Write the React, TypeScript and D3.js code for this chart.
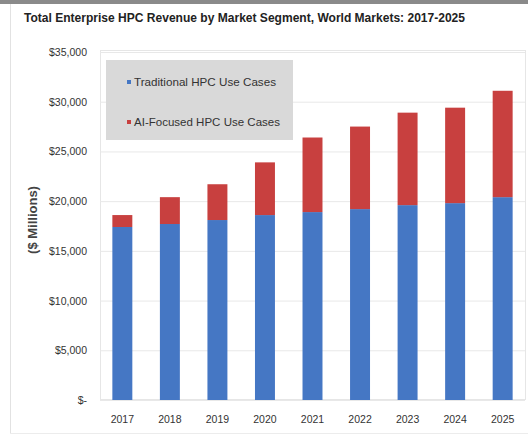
import React from "react";
import * as d3 from "d3";

const years = ["2017", "2018", "2019", "2020", "2021", "2022", "2023", "2024", "2025"];
const traditional = [17400, 17700, 18100, 18600, 18900, 19200, 19600, 19800, 20400];
const aiFocused = [1200, 2700, 3600, 5300, 7500, 8300, 9300, 9600, 10700];
const yTicks = [0, 5000, 10000, 15000, 20000, 25000, 30000, 35000];
const seriesNames = ["Traditional HPC Use Cases", "AI-Focused HPC Use Cases"];
const colors = ["#4577c4", "#c8403f"];

const W = 528, H = 437;
const left = 100, right = 525, top = 52, bottom = 400;
const font = "'Liberation Sans Narrow', 'Arial Narrow', 'Liberation Sans', Arial, sans-serif";

export default function App() {
  const x = d3.scaleBand().domain(years).range([left, right]).paddingInner(0.58).paddingOuter(0.26);
  const y = d3.scaleLinear().domain([0, 35000]).range([bottom, top]);
  const data = years.map((yr, i) => ({ yr, traditional: traditional[i], ai: aiFocused[i] }));
  const stack = d3.stack<any>().keys(["traditional", "ai"])(data);
  const fmt = (v: number) => (v === 0 ? "$-" : "$" + d3.format(",")(v));

  return (
    <svg width={W} height={H} style={{ position: "absolute", left: 0, top: 0, background: "#fff" }}>
      <rect x={0} y={0} width={W} height={H} fill="#fff" />
      <rect x={0} y={0} width={W} height={4} fill="#8a8a8a" />
      <line x1={10.5} x2={10.5} y1={4} y2={433} stroke="#e2e2e2" />
      <line x1={10} x2={W} y1={433.5} y2={433.5} stroke="#ececec" />
      <text x={24} y={22} fontFamily={font} fontWeight="bold" fontSize={12.5} fill="#222" textLength={441} lengthAdjust="spacingAndGlyphs">
        Total Enterprise HPC Revenue by Market Segment, World Markets: 2017-2025
      </text>
      {/* plot frame */}
      <rect x={left + 0.5} y={top - 1.5} width={right - left} height={bottom - top + 1} fill="none" stroke="#e6e6e6" />
      {yTicks.map((t) => (
        <g key={t}>
          <line x1={left} x2={right} y1={y(t) + 0.5} y2={y(t) + 0.5} stroke="#e8e8e8" />
          <text x={87} y={y(t) + 4} textAnchor="end" fontFamily={font} fontSize={10.5} fill="#333">
            {fmt(t)}
          </text>
        </g>
      ))}
      <text transform={`translate(37,${220}) rotate(-90)`} textAnchor="middle" fontFamily={font} fontWeight="bold" fontSize={13} fill="#444">
        ($ Millions)
      </text>
      {stack.map((s, si) => (
        <g key={si} fill={colors[si]}>
          {s.map((d: any, i: number) => (
            <rect key={i} x={x(years[i])} y={y(d[1])} width={x.bandwidth()} height={y(d[0]) - y(d[1])} />
          ))}
        </g>
      ))}
      {years.map((yr) => (
        <text key={yr} x={(x(yr) as number) + x.bandwidth() / 2} y={423} textAnchor="middle" fontFamily={font} fontSize={10.5} fill="#333">
          {yr}
        </text>
      ))}
      {/* legend */}
      <rect x={106} y={60} width={187} height={80} fill="#d9d9d9" />
      {seriesNames.map((n, i) => (
        <g key={n}>
          <rect x={127} y={80 + i * 40} width={4} height={4} fill={colors[i]} />
          <text x={134} y={86 + i * 40} fontFamily={font} fontSize={11} fill="#333" textLength={i === 0 ? 142 : 146} lengthAdjust="spacingAndGlyphs">
            {n}
          </text>
        </g>
      ))}
    </svg>
  );
}
